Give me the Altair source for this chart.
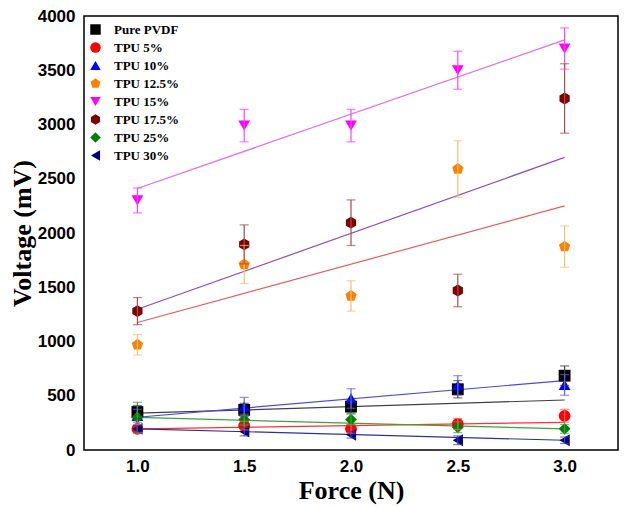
import altair as alt
import pandas as pd

# ---------------- data ----------------
force = [1.0, 1.5, 2.0, 2.5, 3.0]
series = ["Pure PVDF", "TPU 5%", "TPU 10%", "TPU 12.5%", "TPU 15%",
          "TPU 17.5%", "TPU 25%", "TPU 30%"]

pvdf_v = [350, 370, 400, 560, 685]
tpu5_v = [195, 225, 195, 240, 315]
tpu10_v = [315, 400, 475, 595, 600]
tpu125_v = [970, 1710, 1420, 2590, 1875]
tpu15_v = [2300, 2990, 2990, 3500, 3700]
tpu175_v = [1280, 1895, 2095, 1470, 3240]
tpu25_v = [300, 280, 280, 210, 195]
tpu30_v = [195, 170, 140, 90, 90]

pvdf_e = [60, 60, 60, 80, 90]
tpu5_e = [40, 40, 40, 50, 60]
tpu10_e = [60, 85, 90, 90, 95]
tpu125_e = [95, 175, 140, 260, 190]
tpu15_e = [115, 150, 150, 175, 190]
tpu175_e = [125, 180, 210, 150, 320]
tpu25_e = [140, 50, 50, 50, 40]
tpu30_e = [30, 40, 30, 40, 30]

# linear trend lines (value at F = 1.0 N and F = 3.0 N)
fit_x = [1.0, 3.0]
fit_start = [339, 194, 302, 1175, 2410, 1297, 300, 195]
fit_end = [461, 255, 640, 2250, 3780, 2697, 195, 90]

# ---------------- styles ----------------
marker_colors = ["#000000", "#ff0000", "#0000ff", "#ff8000", "#ff00ff",
                 "#800000", "#008000", "#000080"]
line_colors = ["#404040", "#ff3030", "#4a4ae0", "#e06060", "#e070e0",
               "#9050b0", "#40a040", "#303090"]
err_colors = ["#404040", "#ff6060", "#6060ff", "#f5c070", "#ff40ff",
              "#a05050", "#40a040", "#4040a0"]
pentagon = "M0,-1L0.951,-0.309L0.588,0.809L-0.588,0.809L-0.951,-0.309Z"
hexagon = "M0,-1L0.866,-0.5L0.866,0.5L0,1L-0.866,0.5L-0.866,-0.5Z"
shapes = ["square", "circle", "triangle-up", pentagon, "triangle-down",
          hexagon, "diamond", "triangle-left"]

values = [pvdf_v, tpu5_v, tpu10_v, tpu125_v, tpu15_v, tpu175_v, tpu25_v, tpu30_v]
errors = [pvdf_e, tpu5_e, tpu10_e, tpu125_e, tpu15_e, tpu175_e, tpu25_e, tpu30_e]

rows = []
for s, vs, es in zip(series, values, errors):
    for f, v, e in zip(force, vs, es):
        rows.append({"series": s, "force": f, "v": v, "lo": v - e, "hi": v + e})
df = pd.DataFrame(rows)

fit_rows = []
for s, a, b in zip(series, fit_start, fit_end):
    fit_rows.append({"series": s, "force": fit_x[0], "val": a})
    fit_rows.append({"series": s, "force": fit_x[1], "val": b})
fit_df = pd.DataFrame(fit_rows)

x_scale = alt.Scale(domain=[0.75, 3.25], nice=False, zero=False)
y_scale = alt.Scale(domain=[0, 4000], nice=False)


def X():
    return alt.X("force:Q", scale=x_scale, title="Force (N)",
                 axis=alt.Axis(values=force, format=".1f"))


def Y(field):
    return alt.Y(field, scale=y_scale, title="Voltage (mV)",
                 axis=alt.Axis(values=list(range(0, 4001, 500)), format="d"))


line_stroke = alt.Stroke("series:N", scale=alt.Scale(domain=series, range=line_colors),
                         legend=None)
err_color = alt.Color("series:N", scale=alt.Scale(domain=series, range=err_colors),
                      legend=None)

legend = alt.Legend(title=None, orient="none", legendX=5, legendY=7, padding=0,
                    labelFont="Liberation Serif", labelFontWeight="bold",
                    labelFontSize=13, labelColor="black", labelOffset=12,
                    rowPadding=4, symbolSize=110, symbolStrokeWidth=0)

lines = alt.Chart(fit_df).mark_line(strokeWidth=1.2).encode(
    x=X(), y=Y("val:Q"), stroke=line_stroke, detail="series:N")

points = alt.Chart(df).mark_point(filled=True, size=140, opacity=1, strokeWidth=0).encode(
    x=X(), y=Y("v:Q"),
    fill=alt.Fill("series:N", scale=alt.Scale(domain=series, range=marker_colors),
                  legend=legend, sort=series),
    shape=alt.Shape("series:N", scale=alt.Scale(domain=series, range=shapes),
                    legend=legend, sort=series))

rules = alt.Chart(df).mark_rule(strokeWidth=1.2).encode(
    x=X(), y=Y("lo:Q"), y2=alt.Y2("hi:Q"), color=err_color)

cap_hi = alt.Chart(df).mark_tick(orient="horizontal", size=9, thickness=1.2).encode(
    x=X(), y=Y("hi:Q"), color=err_color)
cap_lo = alt.Chart(df).mark_tick(orient="horizontal", size=9, thickness=1.2).encode(
    x=X(), y=Y("lo:Q"), color=err_color)

chart = alt.layer(lines, points, rules, cap_hi, cap_lo).resolve_scale(
    color="independent", stroke="independent"
).properties(
    width=534, height=434,
    autosize=alt.AutoSizeParams(type="none"),
    padding={"left": 76, "top": 8, "right": 2, "bottom": 56},
).configure_view(
    stroke="black", strokeWidth=1.5
).configure_axis(
    domain=False, grid=False, ticks=False,
    labelFont="Liberation Sans", labelFontWeight="bold", labelFontSize=17,
    labelColor="black",
    titleFont="Liberation Serif", titleFontWeight="bold", titleFontSize=26,
    titleColor="black",
).configure_axisX(
    labelPadding=8, titlePadding=3
).configure_axisY(
    labelPadding=9, titlePadding=2
)

chart.save("out.html", embed_options={"renderer": "svg", "actions": False})
